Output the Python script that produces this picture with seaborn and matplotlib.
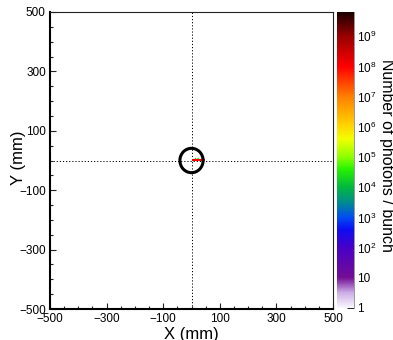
import numpy as np
import pandas as pd
import matplotlib
matplotlib.use("Agg")
import matplotlib.pyplot as plt
from matplotlib.colors import LogNorm, LinearSegmentedColormap
from matplotlib.patches import Circle
from matplotlib.ticker import MultipleLocator, FixedLocator, FixedFormatter, NullFormatter
import seaborn as sns

# Photon hits per bunch on the detector plane (bin centres, mm)
hit_x = [2, 6, 10, 14, 18, 22, 26, 30, 34, 38, 42, 46, 14, 22, 26]
hit_y = [2, 2, 2, 2, 2, 2, 2, 2, 2, 2, 2, 2, 6, 6, 6]
photons = [2.0e8, 1.6e8, 1.3e8, 1.1e8, 1.0e8, 9.5e7, 9.0e7, 8.5e7,
           8.0e7, 7.5e7, 7.0e7, 6.5e7, 2.0e4, 1.2e5, 6.0e4]

axis_ticks = [-500, -300, -100, 100, 300, 500]
cbar_ticks = [1, 1e1, 1e2, 1e3, 1e4, 1e5, 1e6, 1e7, 1e8, 1e9]
cbar_labels = ["1", "10"] + [r"$\mathregular{10^{%d}}$" % k for k in range(2, 10)]

beam_pipe_radius = 41.0

sns.set_style("white")
plt.rcParams["font.family"] = ["Liberation Sans", "DejaVu Sans"]
plt.rcParams["mathtext.default"] = "regular"
plt.rcParams["text.color"] = "black"

df = pd.DataFrame({"x": hit_x, "y": hit_y, "photons": photons})

# ROOT-like rainbow palette on a log scale (1 .. ~6.6e9)
zmax = 10 ** 9.82
stops = [
    (0.0, (0.98, 0.97, 1.0)),
    (0.5, (0.80, 0.68, 0.90)),
    (1.0, (0.45, 0.05, 0.58)),
    (2.0, (0.28, 0.00, 0.78)),
    (2.6, (0.05, 0.05, 0.95)),
    (3.0, (0.00, 0.30, 0.95)),
    (3.5, (0.00, 0.55, 0.55)),
    (4.0, (0.00, 0.72, 0.25)),
    (4.6, (0.15, 0.95, 0.00)),
    (5.0, (0.55, 1.00, 0.00)),
    (5.6, (0.95, 1.00, 0.00)),
    (6.0, (1.00, 0.85, 0.00)),
    (7.0, (1.00, 0.50, 0.00)),
    (8.0, (1.00, 0.00, 0.00)),
    (9.0, (0.60, 0.00, 0.00)),
    (9.82, (0.10, 0.00, 0.00)),
]
cmap = LinearSegmentedColormap.from_list(
    "root_rainbow", [(d / 9.82, c) for d, c in stops], N=512)

fig = plt.figure(figsize=(3.93, 3.40), dpi=100)
ax = fig.add_axes([50 / 393, 31 / 340, 283 / 393, 297 / 340])
cax = fig.add_axes([336.5 / 393, 32 / 340, 17 / 393, 296.5 / 340])

# guide lines through the origin
ax.axvline(0, color="black", lw=0.7, ls=(0, (1.2, 2.0)), zorder=0.5)
ax.axhline(0, color="black", lw=0.7, ls=(0, (1.2, 2.0)), zorder=0.5)

sns.histplot(
    data=df, x="x", y="y", weights="photons",
    binwidth=4, binrange=((-500, 500), (-500, 500)),
    cmap=cmap, cbar=False, ax=ax, zorder=1,
)
mesh = ax.collections[0]
mesh.set_norm(LogNorm(vmin=1, vmax=zmax))
cb = fig.colorbar(mesh, cax=cax)

ax.add_patch(Circle((0, 0), beam_pipe_radius, fill=False,
                    edgecolor="black", lw=2.2, zorder=3))

ax.set_xlim(-500, 500)
ax.set_ylim(-500, 500)
ax.set_xlabel("")
ax.set_ylabel("")
ax.xaxis.set_major_locator(FixedLocator(axis_ticks))
ax.yaxis.set_major_locator(FixedLocator(axis_ticks))
ax.xaxis.set_minor_locator(MultipleLocator(50))
ax.yaxis.set_minor_locator(MultipleLocator(50))
ax.tick_params(which="both", direction="in", top=False, right=False,
               bottom=True, left=True, color="#222222", labelcolor="black",
               width=0.8, labelsize=8.5, pad=3)
ax.tick_params(which="major", length=4.5)
ax.tick_params(which="minor", length=2.2)
for side in ("left", "bottom"):
    ax.spines[side].set_linewidth(1.5)
    ax.spines[side].set_color("black")
for side in ("top", "right"):
    ax.spines[side].set_linewidth(0.8)
    ax.spines[side].set_color("#222222")

# colour bar axis
cb.outline.set_visible(False)
cax.spines["right"].set_visible(True)
cax.spines["right"].set_color("#999999")
cax.spines["right"].set_linewidth(0.7)
cax.yaxis.set_major_locator(FixedLocator(cbar_ticks))
cax.yaxis.set_major_formatter(FixedFormatter(cbar_labels))
minor = [m * 10 ** k for k in range(0, 10) for m in range(2, 10) if m * 10 ** k < zmax]
cax.yaxis.set_minor_locator(FixedLocator(minor))
cax.yaxis.set_minor_formatter(NullFormatter())
cax.tick_params(which="both", direction="in", right=True, left=False,
                labelright=True, labelleft=False, color="#222222",
                labelcolor="black", width=0.7, labelsize=8.5, pad=2.5)
cax.tick_params(which="major", length=5)
cax.tick_params(which="minor", length=3)

fig.text(191.5 / 393, 1 / 340, "X (mm)", ha="center", va="baseline",
         fontsize=12, color="black")
fig.text(26 / 393, (340 - 158) / 340, "Y (mm)", ha="right", va="center",
         rotation=90, fontsize=12, color="black")
fig.text(379 / 393, (340 - 155) / 340, "Number of photons / bunch",
         ha="left", va="center", rotation=270, fontsize=11.5, color="black")

fig.savefig("out.png", dpi=100)
